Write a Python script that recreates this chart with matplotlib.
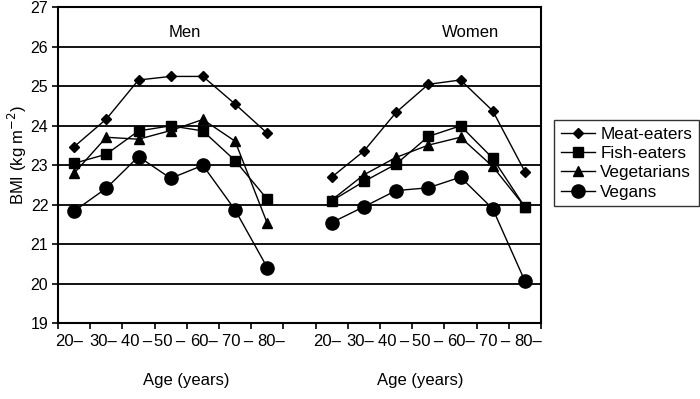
import matplotlib
matplotlib.use("Agg")
import matplotlib.pyplot as plt
import numpy as np

plt.rcParams['font.family'] = ['Liberation Sans', 'DejaVu Sans']

age_groups = ["20–", "30–", "40\u2009–", "50\u2009–", "60–", "70\u2009–", "80–"]
groups = ["Men", "Women"]
series_names = ["Meat-eaters", "Fish-eaters", "Vegetarians", "Vegans"]

men_meat = [23.47, 24.17, 25.16, 25.25, 25.25, 24.55, 23.81]
men_fish = [23.05, 23.28, 23.87, 24.00, 23.87, 23.12, 22.14]
men_veg = [22.80, 23.71, 23.66, 23.88, 24.16, 23.61, 21.53]
men_vegan = [21.84, 22.42, 23.22, 22.67, 23.00, 21.87, 20.41]

women_meat = [22.70, 23.36, 24.34, 25.05, 25.16, 24.38, 22.84]
women_fish = [22.10, 22.59, 23.03, 23.73, 24.00, 23.18, 21.94]
women_veg = [22.12, 22.76, 23.20, 23.51, 23.71, 22.97, 21.95]
women_vegan = [21.55, 21.95, 22.36, 22.43, 22.70, 21.90, 20.07]

men = [men_meat, men_fish, men_veg, men_vegan]
women = [women_meat, women_fish, women_veg, women_vegan]
markers = ["D", "s", "^", "o"]
msizes = [5.3, 6.8, 7.2, 9.5]

fig = plt.figure(figsize=(7, 3.99), dpi=100)
ax = fig.add_axes([58/700, 1-323.3/399, 483/700, (323.3-7.3)/399])

n = len(age_groups)
x_men = np.arange(n)
x_women = np.arange(n) + n + 1

for i, name in enumerate(series_names):
    ax.plot(x_men, men[i], color='black', lw=1, marker=markers[i], ms=msizes[i],
            label=name)
    ax.plot(x_women, women[i], color='black', lw=1, marker=markers[i], ms=msizes[i])

ax.set_xlim(-0.5, 2*n + 0.5)
ax.set_ylim(19, 27)
ax.set_yticks(np.arange(19, 28, 1))
for y in range(20, 27):
    ax.axhline(y, color='black', lw=1.3, zorder=0)

# label positions spread slightly wider than the category slots
spread = (np.arange(n) - 3) * 0.045 - 0.02
ax.set_xticks(np.arange(-0.5, 2*n + 1, 1))
ax.set_xticklabels([])
ax.set_xticks(list(x_men + spread) + list(x_women + spread), minor=True)
ax.set_xticklabels(age_groups + age_groups, minor=True, fontsize=12)
ax.tick_params(axis='x', which='major', direction='out', length=4, width=1.2)
ax.tick_params(axis='x', which='minor', length=0, pad=8)
ax.tick_params(axis='y', direction='out', length=4, width=1.2, labelsize=11.5, pad=3)

for s in ax.spines.values():
    s.set_linewidth(1.5)
    s.set_color('black')

fig.text(17/700, 1-155/399, "BMI (kg m$^{-2}$)", rotation=90, ha='center',
         va='center', fontsize=12)

ax.text(3.45, 26.37, groups[0], ha='center', va='center', fontsize=12)
ax.text(12.3, 26.37, groups[1], ha='center', va='center', fontsize=12)

fig.text(186/700, 1-380/399, "Age (years)", ha='center', va='center', fontsize=12)
fig.text(420/700, 1-380/399, "Age (years)", ha='center', va='center', fontsize=12)

leg = fig.legend(loc='upper left', bbox_to_anchor=(554/700, 1-120/399),
                 fontsize=12.3, frameon=True, fancybox=False, handlelength=2.0,
                 handletextpad=0.3, labelspacing=0.25, borderpad=0.4,
                 borderaxespad=0)
leg.get_frame().set_edgecolor('black')
leg.get_frame().set_linewidth(1)

fig.savefig("out.png", dpi=100)
